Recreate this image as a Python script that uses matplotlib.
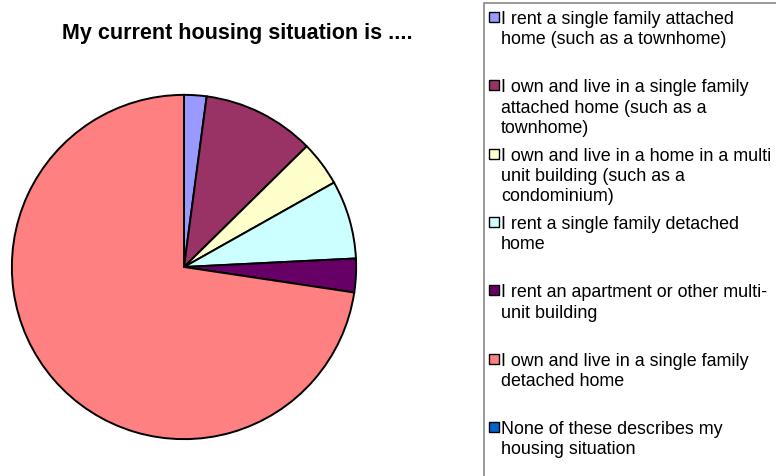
import matplotlib
matplotlib.use("Agg")
import matplotlib.pyplot as plt
from matplotlib.patches import Rectangle

plt.rcParams["font.family"] = ["Liberation Sans", "DejaVu Sans"]

TITLE = "My current housing situation is ...."
LABELS = [
    "I rent a single family attached\nhome (such as a townhome)",
    "I own and live in a single family\nattached home (such as a\ntownhome)",
    "I own and live in a home in a multi\nunit building (such as a\ncondominium)",
    "I rent a single family detached\nhome",
    "I rent an apartment or other multi-\nunit building",
    "I own and live in a single family\ndetached home",
    "None of these describes my\nhousing situation",
]
COUNTS = [2, 10, 4, 7, 3, 69, 0]
COLORS = ["#9999FF", "#993366", "#FFFFCC", "#CCFFFF", "#660066", "#FF8080", "#0066CC"]

W, H = 776, 477
fig = plt.figure(figsize=(W / 100, H / 100), dpi=100)

# pie: centre (184, 268) px, radius 173 px
cx, cy, r = 184, 268, 173
ax = fig.add_axes([(cx - r) / W, (H - cy - r) / H, 2 * r / W, 2 * r / H])
ax.pie(COUNTS, colors=COLORS, startangle=90, counterclock=False, radius=1,
       wedgeprops=dict(edgecolor="black", linewidth=1.4))
ax.set_xlim(-1.005, 1.005)
ax.set_ylim(-1.005, 1.005)
ax.set_aspect("equal")
ax.axis("off")

fig.text(237 / W, 1 - 33 / H, TITLE, ha="center", va="center",
         fontsize=15.5, fontweight="bold")

# legend box, running off the right and bottom edges
fig.patches.append(Rectangle((484 / W, -0.05), 0.5, 1 - 4 / H + 0.05,
                             transform=fig.transFigure, facecolor="white",
                             edgecolor="#888888", linewidth=1.2))
y0, step = 18, 68.33
for i, (lab, col) in enumerate(zip(LABELS, COLORS)):
    y = y0 + i * step
    fig.patches.append(Rectangle((489 / W, 1 - (y + 5) / H), 10 / W, 10 / H,
                                 transform=fig.transFigure, facecolor=col,
                                 edgecolor="black", linewidth=1.0))
    fig.text(501 / W, 1 - (y - 7) / H, lab, ha="left", va="top",
             fontsize=12.9, linespacing=1.26)

fig.savefig("out.png", dpi=100)
